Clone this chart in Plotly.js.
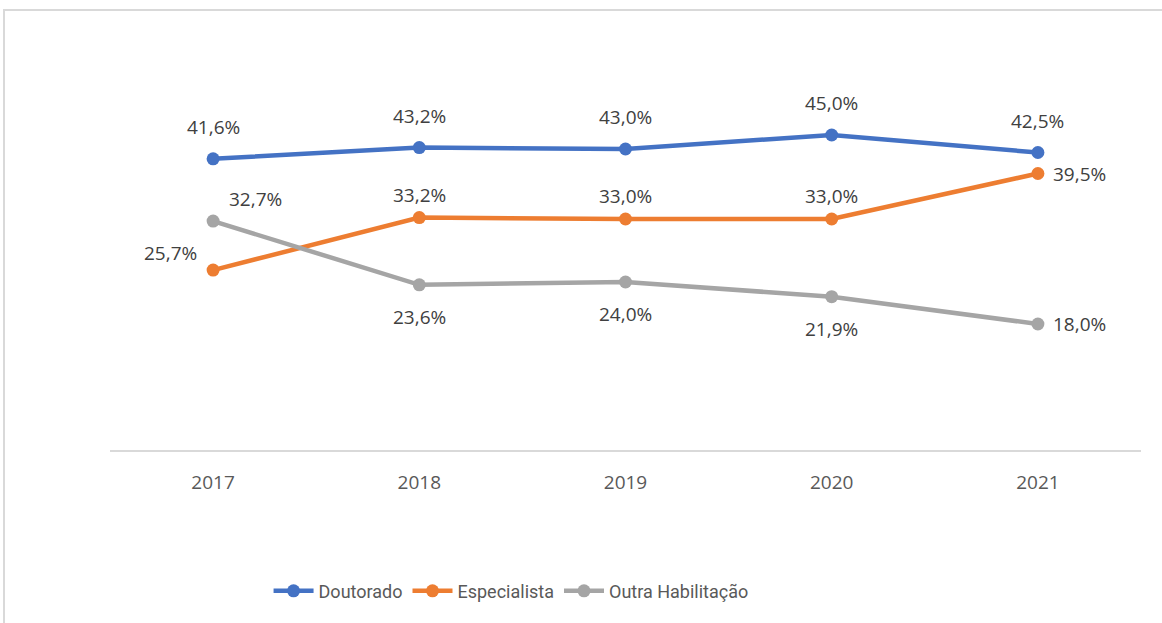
<!DOCTYPE html>
<html>
<head>
<meta charset="utf-8">
<script src="https://cdn.plot.ly/plotly-3.0.1.min.js"></script>
<style>
  html, body { margin: 0; padding: 0; background: #fff; }
  #frame { position: absolute; left: 3px; top: 9px; width: 1170px; height: 640px;
           border-top: 2px solid #d9d9d9; border-left: 2px solid #d9d9d9; pointer-events: none; }
  #chart { width: 1162px; height: 623px; }
</style>
</head>
<body>
<div id="chart"></div>
<div id="frame"></div>
<script>
const years = ['2017', '2018', '2019', '2020', '2021'];
const doutorado = [41.6, 43.2, 43.0, 45.0, 42.5];
const especialista = [25.7, 33.2, 33.0, 33.0, 39.5];
const outra = [32.7, 23.6, 24.0, 21.9, 18.0];
const seriesNames = ['Doutorado', 'Especialista', 'Outra Habilitação'];

// label placement per point (style, not data)
const placeDout = ['above', 'above', 'above', 'above', 'above'];
const placeEsp = ['left', 'aboveNear', 'aboveNear', 'aboveNear', 'right'];
const placeOut = ['aboveright', 'below', 'below', 'below', 'right'];
const shifts = {
  above: [0, 32], aboveNear: [0, 23], below: [0, -32], left: [-43, 17], right: [42, 0], aboveright: [42, 22]
};

const colors = ['#4472C4', '#ED7D31', '#A5A5A5'];
const allSeries = [doutorado, especialista, outra];
const places = [placeDout, placeEsp, placeOut];

const fmt = v => v.toFixed(1).replace('.', ',') + '%';

const traces = allSeries.map((vals, i) => ({
  x: years, y: vals, name: seriesNames[i], type: 'scatter', mode: 'lines+markers',
  line: { color: colors[i], width: 4.5 },
  marker: { color: colors[i], size: 13 },
  hoverinfo: 'skip'
}));

const annotations = [];
allSeries.forEach((vals, i) => {
  vals.forEach((v, j) => {
    const s = shifts[places[i][j]];
    annotations.push({
      x: j, y: v, xref: 'x', yref: 'y', text: fmt(v), showarrow: false,
      xshift: s[0], yshift: s[1],
      font: { family: 'Open Sans, sans-serif', size: 19, color: '#404040' }
    });
  });
});

const layout = {
  width: 1162, height: 623,
  margin: { l: 110, r: 21, t: 30, b: 173 },
  paper_bgcolor: '#fff', plot_bgcolor: '#fff',
  showlegend: true,
  legend: {
    orientation: 'h', x: 0.389, xanchor: 'center', y: -0.336, yanchor: 'middle',
    font: { family: 'Roboto, sans-serif', size: 18, color: '#595959' },
    itemwidth: 40, tracegroupgap: 0
  },
  xaxis: {
    type: 'category', range: [-0.5, 4.5], showgrid: false, zeroline: false,
    showline: true, linecolor: '#d9d9d9', linewidth: 2,
    ticks: '', ticklabelstandoff: 14,
    tickfont: { family: 'Open Sans, sans-serif', size: 19, color: '#595959' }
  },
  yaxis: {
    range: [0, 60], visible: false, showgrid: false, zeroline: false
  },
  annotations: annotations
};

Plotly.newPlot('chart', traces, layout, { displayModeBar: false, staticPlot: true });
</script>
</body>
</html>
